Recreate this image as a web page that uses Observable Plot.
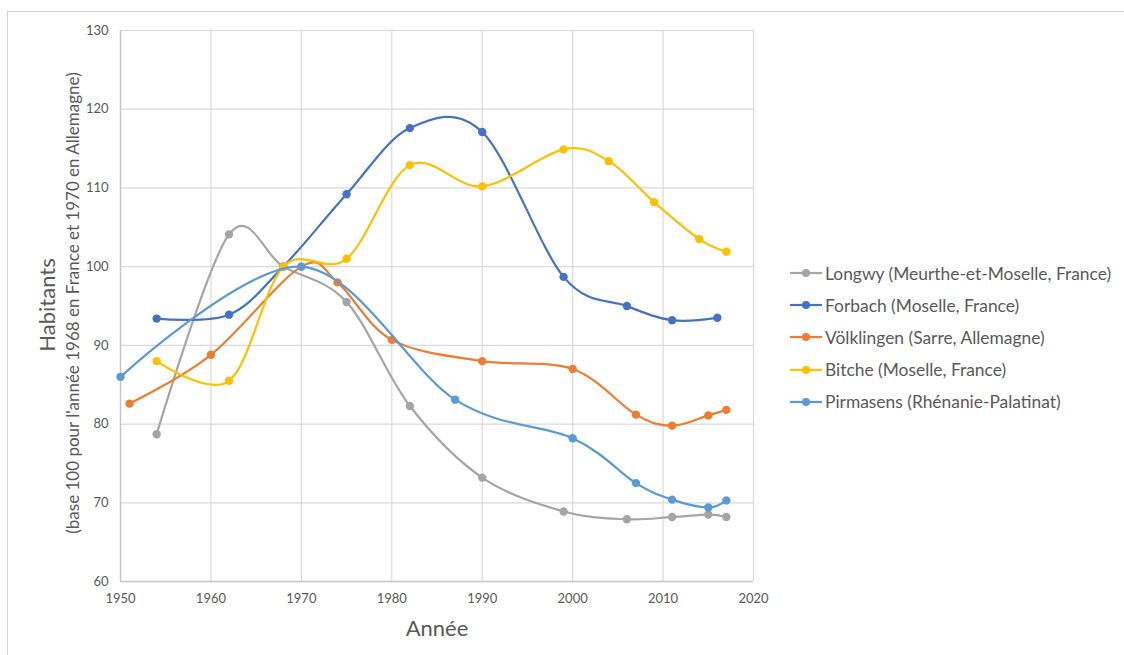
<!DOCTYPE html>
<html>
<head>
<meta charset="utf-8">
<script src="https://cdn.jsdelivr.net/npm/d3@7"></script>
<script src="https://cdn.jsdelivr.net/npm/@observablehq/plot@0.6"></script>
<style>
  html, body { margin: 0; padding: 0; background: #fff; }
  #wrap { position: relative; width: 1124px; height: 655px; overflow: hidden; font-family: Lato, sans-serif; color: #595959; }
  #frame { position: absolute; left: 7px; top: 11px; width: 1130px; height: 700px; border-top: 1.5px solid #d4d4d4; border-left: 1.5px solid #d4d4d4; }
  #chart { position: absolute; left: 0; top: 0; }
  .ytitle { position: absolute; white-space: nowrap; transform: translate(-50%, -50%) rotate(-90deg); color: #595959; }
  #legend { position: absolute; left: 790px; top: 257px; }
  .item { display: flex; align-items: center; height: 32.2px; font-size: 17.4px; color: #595959; }
  .item svg { margin-right: 2px; }
</style>
</head>
<body>
<div id="wrap">
  <div id="frame"></div>
  <div id="chart"></div>
  <div class="ytitle" style="left:46px; top:305px; font-size:22px;">Habitants</div>
  <div class="ytitle" style="left:72px; top:303px; font-size:17px;">(base 100 pour l'année 1968 en France et 1970 en Allemagne)</div>
  <div id="legend"></div>
</div>
<script>
// Data
const seriesNames = [
  "Longwy (Meurthe-et-Moselle, France)",
  "Forbach (Moselle, France)",
  "Völklingen (Sarre, Allemagne)",
  "Bitche (Moselle, France)",
  "Pirmasens (Rhénanie-Palatinat)"
];
const seriesColors = ["#A5A5A5", "#4472C4", "#ED7D31", "#FFC000", "#5B9BD5"];

const longwyYears = [1954, 1962, 1968, 1975, 1982, 1990, 1999, 2006, 2011, 2015, 2017];
const longwyValues = [78.7, 104.1, 100, 95.5, 82.3, 73.2, 68.9, 67.9, 68.2, 68.5, 68.2];

const forbachYears = [1954, 1962, 1968, 1975, 1982, 1990, 1999, 2006, 2011, 2016];
const forbachValues = [93.4, 93.9, 100, 109.2, 117.6, 117.1, 98.7, 95.0, 93.2, 93.5];

const volklingenYears = [1951, 1960, 1970, 1974, 1980, 1990, 2000, 2007, 2011, 2015, 2017];
const volklingenValues = [82.6, 88.8, 100, 98.0, 90.7, 88.0, 87.0, 81.2, 79.8, 81.1, 81.8];

const bitcheYears = [1954, 1962, 1968, 1975, 1982, 1990, 1999, 2004, 2009, 2014, 2017];
const bitcheValues = [88.0, 85.5, 100, 101.0, 112.9, 110.2, 114.9, 113.4, 108.2, 103.5, 101.9];

const pirmasensYears = [1950, 1970, 1987, 2000, 2007, 2011, 2015, 2017];
const pirmasensValues = [86.0, 100, 83.1, 78.2, 72.5, 70.4, 69.4, 70.3];

const xTicks = [1950, 1960, 1970, 1980, 1990, 2000, 2010, 2020];
const yTicks = [60, 70, 80, 90, 100, 110, 120, 130];

const allYears = [longwyYears, forbachYears, volklingenYears, bitcheYears, pirmasensYears];
const allValues = [longwyValues, forbachValues, volklingenValues, bitcheValues, pirmasensValues];

const rows = [];
seriesNames.forEach((name, i) => {
  allYears[i].forEach((yr, j) => rows.push({series: name, year: yr, value: allValues[i][j]}));
});

const chart = Plot.plot({
  width: 1124,
  height: 655,
  marginLeft: 120,
  marginRight: 371,
  marginTop: 30,
  marginBottom: 74,
  style: { fontFamily: "Lato, sans-serif", fontSize: "13px", color: "#595959", background: "transparent" },
  x: { domain: [1950, 2020], ticks: xTicks },
  y: { domain: [60, 130], ticks: yTicks },
  color: { domain: seriesNames, range: seriesColors },
  marks: [
    Plot.gridX(xTicks, { stroke: "#d9d9d9", strokeOpacity: 1, strokeWidth: 1.2 }),
    Plot.gridY(yTicks, { stroke: "#d9d9d9", strokeOpacity: 1, strokeWidth: 1.2 }),
    Plot.ruleX([1950], { stroke: "#c4c4c4", strokeWidth: 1.3 }),
    Plot.ruleY([60], { stroke: "#c4c4c4", strokeWidth: 1.3 }),
    Plot.axisX(xTicks, { tickSize: 0, tickPadding: 12, tickFormat: d => String(d), label: null, fill: "#595959" }),
    Plot.axisY(yTicks, { tickSize: 0, tickPadding: 12, label: null, fill: "#595959" }),
    ...seriesNames.map((name, i) => [
      Plot.line(rows.filter(r => r.series === name), { x: "year", y: "value", stroke: seriesColors[i], strokeWidth: 2.2, curve: "cardinal" }),
      Plot.dot(rows.filter(r => r.series === name), { x: "year", y: "value", fill: seriesColors[i], r: 4.2, stroke: "none" })
    ]).flat(),
    Plot.text(["Année"], { frameAnchor: "bottom", dy: 54, fontSize: 22, fill: "#595959" })
  ]
});
document.getElementById("chart").appendChild(chart);

const legend = d3.select("#legend");
seriesNames.forEach((name, i) => {
  const item = legend.append("div").attr("class", "item");
  const svg = item.append("svg").attr("width", 33).attr("height", 12);
  svg.append("line").attr("x1", 0).attr("x2", 32).attr("y1", 6).attr("y2", 6)
    .attr("stroke", seriesColors[i]).attr("stroke-width", 2.2);
  svg.append("circle").attr("cx", 16).attr("cy", 6).attr("r", 4).attr("fill", seriesColors[i]);
  item.append("span").text(name);
});
</script>
</body>
</html>
